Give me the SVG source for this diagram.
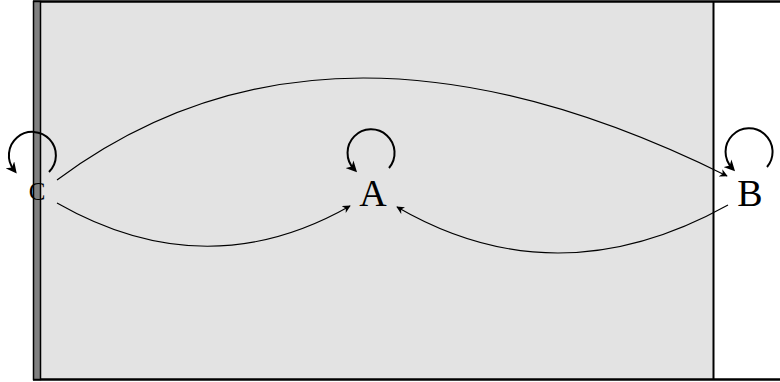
<svg xmlns="http://www.w3.org/2000/svg" width="780" height="382" viewBox="0 0 780 382">
<style>
.lbl{font-family:"Liberation Serif","DejaVu Serif",serif;fill:#000;text-anchor:middle}
.edge{fill:none;stroke:#000;stroke-width:1.1}
.loop{fill:none;stroke:#000;stroke-width:2}
</style>
<defs>
<marker id="ah" viewBox="0 0 10 10" refX="9" refY="5" markerWidth="8" markerHeight="8" markerUnits="userSpaceOnUse" orient="auto">
<path d="M0,0 L10,5 L0,10 L3,5 Z" fill="#000"/>
</marker>
<marker id="lh" viewBox="0 0 10 10" refX="6" refY="5" markerWidth="11" markerHeight="11" markerUnits="userSpaceOnUse" orient="auto">
<path d="M0,0 L10,5 L0,10 L3,5 Z" fill="#000"/>
</marker>
</defs>
<g id="background">
<rect x="33" y="1.5" width="680" height="378" fill="#e3e3e3" stroke="none"/>
<line x1="33" y1="1.5" x2="780" y2="1.5" stroke="#000" stroke-width="2.5"/>
<line x1="33" y1="379.5" x2="780" y2="379.5" stroke="#000" stroke-width="2.5"/>
<line x1="713.5" y1="1.5" x2="713.5" y2="380" stroke="#000" stroke-width="2"/>
<rect x="33.5" y="1.5" width="7" height="378" fill="#808080" stroke="#000" stroke-width="1.5"/>
</g>
<g id="edges">
<path class="edge" d="M57,180 Q328,-22 727,176" marker-end="url(#ah)"/>
<path class="edge" d="M57,203 Q206,288 350,206" marker-end="url(#ah)"/>
<path class="edge" d="M728,205 Q557,300 397,207" marker-end="url(#ah)"/>
<path class="loop" d="M49,172 A23.5,23.5 0 1 0 14,170" marker-end="url(#lh)"/>
<path class="loop" d="M389,168 A23.5,23.5 0 1 0 354,169" marker-end="url(#lh)"/>
<path class="loop" d="M767,167 A23.5,23.5 0 1 0 732,168" marker-end="url(#lh)"/>
</g>
<g id="node-C"><text class="lbl" x="37" y="200" font-size="25">C</text></g>
<g id="node-A"><text class="lbl" x="373" y="206" font-size="38">A</text></g>
<g id="node-B"><text class="lbl" x="750" y="206" font-size="38">B</text></g>
</svg>
